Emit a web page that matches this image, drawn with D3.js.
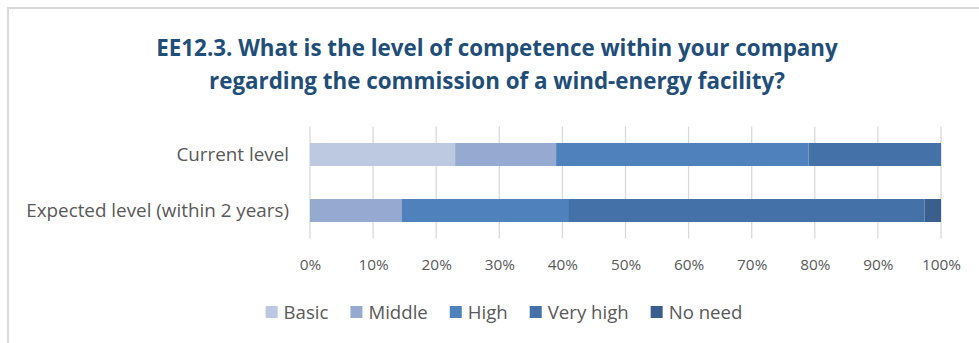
<!DOCTYPE html>
<html><head><meta charset="utf-8">
<script src="https://cdn.jsdelivr.net/npm/d3@7"></script>
<style>body{margin:0;background:#fff}svg{display:block}</style>
</head><body>
<script>
const titleLines = ["EE12.3. What is the level of competence within your company",
                    "regarding the commission of a wind-energy facility?"];
const categories = ["Current level", "Expected level (within 2 years)"];
const seriesNames = ["Basic", "Middle", "High", "Very high", "No need"];
const basic    = [0.23, 0.000];
const middle   = [0.16, 0.145];
const high     = [0.40, 0.264];
const veryHigh = [0.21, 0.565];
const noNeed   = [0.00, 0.026];
const colors = ["#BDC9E1", "#96A9D1", "#4F81BD", "#4472A8", "#3A5F8F"];
const tickValues = [0,0.1,0.2,0.3,0.4,0.5,0.6,0.7,0.8,0.9,1.0];

const W = 979, H = 343;
const svg = d3.select("body").append("svg").attr("width", W).attr("height", H);
const FONT = "'Open Sans', sans-serif";

// frame
svg.append("rect").attr("x", 8).attr("y", 8).attr("width", 1200).attr("height", 1200)
  .attr("fill", "none").attr("stroke", "#D9D9D9").attr("stroke-width", 2);

function fitSize(text, weight, target) {
  const t = svg.append("text").attr("font-family", FONT).attr("font-weight", weight)
    .attr("font-size", 20).text(text);
  const w = t.node().getComputedTextLength();
  t.remove();
  return 20 * target / w;
}

// title
const titleSize = fitSize(titleLines[0], "bold", 682);
svg.selectAll("text.title").data(titleLines).join("text").attr("class", "title")
  .attr("x", 497).attr("y", (d, i) => 56 + i * 33)
  .attr("text-anchor", "middle").attr("font-family", FONT).attr("font-weight", "bold")
  .attr("font-size", titleSize).attr("fill", "#1F4E79").text(d => d);

const x = d3.scaleLinear().domain([0, 1]).range([310, 941]);
const y = d3.scaleBand().domain(categories).range([126.5, 238.5]).paddingInner(0.59).paddingOuter(0.295);

// gridlines
svg.append("g").selectAll("line").data(tickValues).join("line")
  .attr("x1", d => x(d)).attr("x2", d => x(d)).attr("y1", 126.5).attr("y2", 238.5)
  .attr("stroke", "#D9D9D9").attr("stroke-width", 1.3);

// stacked bars
const seriesVals = [basic, middle, high, veryHigh, noNeed];
const rows = categories.map((c, i) => {
  const o = {cat: c};
  seriesNames.forEach((s, j) => o[s] = seriesVals[j][i]);
  return o;
});
const stack = d3.stack().keys(seriesNames)(rows);
svg.append("g").selectAll("g").data(stack).join("g").attr("fill", (d, i) => colors[i])
  .selectAll("rect").data(d => d).join("rect")
  .attr("x", d => x(d[0])).attr("width", d => x(d[1]) - x(d[0]))
  .attr("y", d => y(d.data.cat)).attr("height", y.bandwidth());

// category labels
const catSize = fitSize(categories[1], "normal", 263);
svg.append("g").selectAll("text").data(categories).join("text")
  .attr("x", 289).attr("y", d => y(d) + y.bandwidth() / 2).attr("dy", "0.35em")
  .attr("text-anchor", "end").attr("font-family", FONT).attr("font-size", catSize)
  .attr("fill", "#595959").text(d => d);

// x axis tick labels
const fmt = d3.format(".0%");
const tickSize = fitSize("100%", "normal", 39);
const axis = d3.axisBottom(x).tickValues(tickValues).tickFormat(fmt).tickSize(0).tickPadding(0);
const ax = svg.append("g").attr("transform", "translate(0,265)").call(axis);
ax.select(".domain").remove();
ax.selectAll("text").attr("dy", "0.35em").attr("y", 0).attr("font-family", FONT)
  .attr("font-size", tickSize).attr("fill", "#595959");

// legend
const legSize = fitSize("Very high", "normal", 81);
const leg = svg.append("g");
let cx = 0;
seriesNames.forEach((s, i) => {
  const t = leg.append("text").attr("font-family", FONT).attr("font-size", legSize)
    .attr("fill", "#595959").attr("dy", "0.35em").text(s);
  const w = t.node().getComputedTextLength();
  leg.append("rect").attr("x", cx).attr("y", -6).attr("width", 12).attr("height", 12).attr("fill", colors[i]);
  t.attr("x", cx + 18);
  cx += 18 + w + 22;
});
const total = cx - 22;
leg.attr("transform", `translate(${504 - total / 2},312)`);
</script>
</body></html>
